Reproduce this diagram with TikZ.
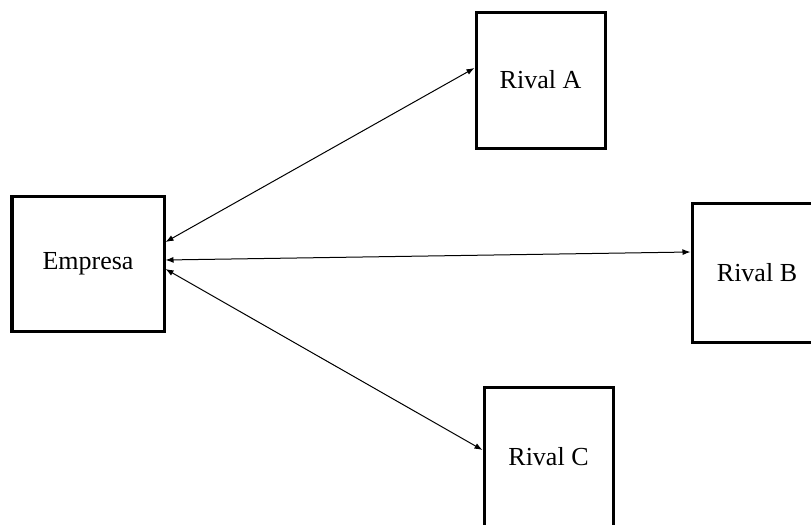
\documentclass[tikz,border=0pt]{standalone}
\usepackage{fontspec}
\setmainfont{Liberation Serif}
\usetikzlibrary{arrows.meta}

\begin{document}
\begin{tikzpicture}[x=0.5pt,y=-0.5pt,
  box/.style={draw,line width=1.5pt,minimum width=64.5pt,minimum height=68pt,inner sep=0pt,font=\fontsize{13}{15}\selectfont},
  link/.style={line width=0.5pt,{Latex[length=4pt,width=3pt]}-{Latex[length=4pt,width=3pt]}}]
\clip (0,0) rectangle (811,525);
\node[box,minimum width=76pt,minimum height=67.5pt] (empresa) at (88,263.5) {Empresa};
\node[box] (rivala) at (540.5,80) {Rival A};
\node[box,minimum width=65pt,minimum height=69.5pt] (rivalb) at (757,272.5) {Rival B};
\node[box,minimum height=70pt] (rivalc) at (548.5,457) {Rival C};
\draw[link] ([yshift=10.75pt]empresa.east) -- ([yshift=6pt]rivala.west);
\draw[link] ([yshift=1.75pt]empresa.east) -- ([yshift=10.25pt]rivalb.west);
\draw[link] ([yshift=-2.75pt]empresa.east) -- ([yshift=3.5pt]rivalc.west);
\end{tikzpicture}
\end{document}
